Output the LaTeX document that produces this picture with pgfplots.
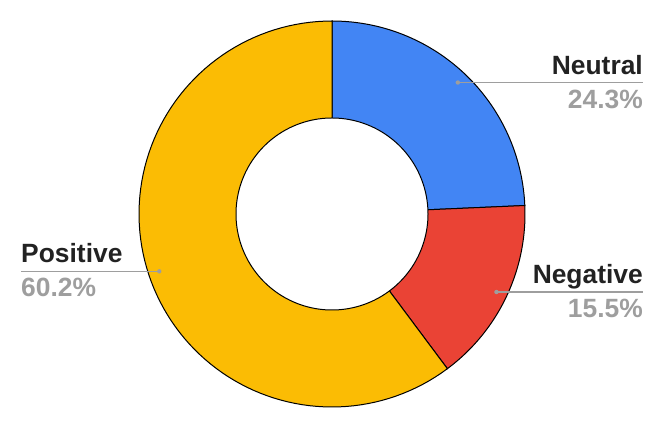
\documentclass[border=0pt]{standalone}
\usepackage{pgfplots}
\usepackage{pgfplotstable}
\pgfplotsset{compat=1.18}
\usepackage{fontspec}
\setmainfont{Liberation Sans}
\definecolor{neu}{HTML}{4285F4}
\definecolor{neg}{HTML}{EA4335}
\definecolor{pos}{HTML}{FBBC04}
\definecolor{lbl}{HTML}{222222}
\definecolor{pct}{HTML}{9E9E9E}

\pgfplotstableread[col sep=comma]{
label,value
Neutral,24.3
Negative,15.5
Positive,60.2
}\sentiment

\begin{document}
\begin{tikzpicture}[
    lab/.style={text=lbl, font=\bfseries\fontsize{26.5}{30}\selectfont, inner sep=0pt},
    pc/.style={text=pct, font=\bfseries\fontsize{26.5}{30}\selectfont, inner sep=0pt},
]
\pgfplotstablegetelem{0}{value}\of\sentiment \let\vNeu\pgfplotsretval
\pgfplotstablegetelem{1}{value}\of\sentiment \let\vNeg\pgfplotsretval
\pgfplotstablegetelem{2}{value}\of\sentiment \let\vPos\pgfplotsretval
% slice angles, clockwise from 12 o'clock
\pgfmathsetmacro\aA{90}
\pgfmathsetmacro\aB{\aA-3.6*\vNeu}
\pgfmathsetmacro\aC{\aB-3.6*\vNeg}
\pgfmathsetmacro\aD{\aC-3.6*\vPos}
\pgfmathsetmacro\mA{(\aA+\aB)/2}
\pgfmathsetmacro\mB{(\aB+\aC)/2}
\pgfmathsetmacro\mC{(\aC+\aD)/2}
\def\cx{332}\def\cy{213}\def\ro{193}\def\ri{96}\def\rd{182}
\pgfmathsetmacro\yA{\cy+\rd*sin(\mA)}
\pgfmathsetmacro\yB{\cy+\rd*sin(\mB)}
\pgfmathsetmacro\yC{\cy+\rd*sin(\mC)}
\pgfmathsetmacro\xA{\cx+\rd*cos(\mA)}
\pgfmathsetmacro\xB{\cx+\rd*cos(\mB)}
\pgfmathsetmacro\xC{\cx+\rd*cos(\mC)}
\begin{axis}[
    width=664bp, height=427bp, scale only axis,
    xmin=0, xmax=664, ymin=0, ymax=427,
    hide axis, clip=false,
    slice/.style={draw=black, line width=1bp, variable=\t,
        samples at={-1,0,1,...,100,101}, no markers},
]
% keep the full canvas as bounding box
\path (rel axis cs:0,0) rectangle (rel axis cs:1,1);
\addplot[slice, fill=neu] ({(\t<0||\t>100) ? \cx : \cx+\ro*cos(\aA+(\aB-\aA)*\t/100)},
                           {(\t<0||\t>100) ? \cy : \cy+\ro*sin(\aA+(\aB-\aA)*\t/100)});
\addplot[slice, fill=neg] ({(\t<0||\t>100) ? \cx : \cx+\ro*cos(\aB+(\aC-\aB)*\t/100)},
                           {(\t<0||\t>100) ? \cy : \cy+\ro*sin(\aB+(\aC-\aB)*\t/100)});
\addplot[slice, fill=pos] ({(\t<0||\t>100) ? \cx : \cx+\ro*cos(\aC+(\aD-\aC)*\t/100)},
                           {(\t<0||\t>100) ? \cy : \cy+\ro*sin(\aC+(\aD-\aC)*\t/100)});
% hole
\addplot[fill=white, draw=black, line width=1bp, variable=\t, domain=0:360, samples=181, no markers]
    ({\cx+\ri*cos(\t)}, {\cy+\ri*sin(\t)});

% leader lines and labels
\draw[pct, line width=1.2bp] (axis cs:\xA,\yA) -- (axis cs:643,\yA);
\draw[pct, line width=1.2bp] (axis cs:\xB,\yB) -- (axis cs:643,\yB);
\draw[pct, line width=1.2bp] (axis cs:\xC,\yC) -- (axis cs:21,\yC);
\fill[pct] (axis cs:\xA,\yA) circle[radius=2.2bp];
\fill[pct] (axis cs:\xB,\yB) circle[radius=2.2bp];
\fill[pct] (axis cs:\xC,\yC) circle[radius=2.2bp];

\node[lab, anchor=base east] at (axis cs:643,\yA+8.5) {Neutral};
\node[pc,  anchor=base east] at (axis cs:643,\yA-25.5) {24.3\%};
\node[lab, anchor=base east] at (axis cs:643,\yB+8.5) {Negative};
\node[pc,  anchor=base east] at (axis cs:643,\yB-25.5) {15.5\%};
\node[lab, anchor=base west] at (axis cs:21,\yC+8.5) {Positive};
\node[pc,  anchor=base west] at (axis cs:21,\yC-25.5) {60.2\%};
\end{axis}
\end{tikzpicture}
\end{document}
